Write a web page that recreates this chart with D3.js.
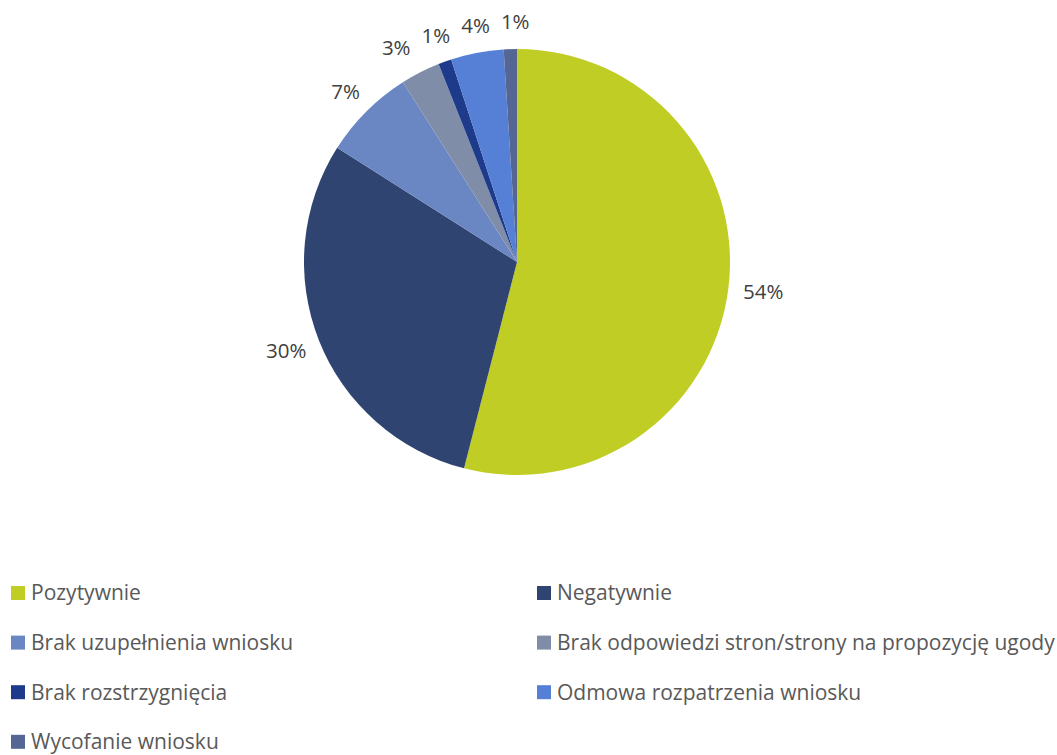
<!DOCTYPE html>
<html>
<head>
<meta charset="utf-8">
<script src="https://cdn.jsdelivr.net/npm/d3@7"></script>
<style>
  body { margin: 0; background: #fff; }
  text { font-family: "Open Sans", sans-serif; }
</style>
</head>
<body>
<div id="pie-chart"></div>
<script>
// data
const categories = [
    "Pozytywnie",
    "Negatywnie",
    "Brak uzupełnienia wniosku",
    "Brak odpowiedzi stron/strony na propozycję ugody",
    "Brak rozstrzygnięcia",
    "Odmowa rozpatrzenia wniosku",
    "Wycofanie wniosku"
];
const values = [54, 30, 7, 3, 1, 4, 1];
const colors = ["#c0cd24", "#2f4470", "#6a86c3", "#7f8da9", "#1e3a8a", "#5680d6", "#566694"];

const dataset = categories.map((c, i) => ({ category: c, value: values[i] }));

const svg = d3.select("#pie-chart")
    .append("svg")
    .attr("width", 1057)
    .attr("height", 755);

const colorScale = d3.scaleOrdinal()
    .domain(categories)
    .range(colors);

// pie, starts at 12 o'clock and goes clockwise like excel
const radius = 213;
const g = svg.append("g")
    .attr("transform", `translate(${517}, ${262})`);

const pie = d3.pie()
    .value(d => d.value)
    .sort(null);

const arc = d3.arc()
    .innerRadius(0)
    .outerRadius(radius);

// anchor point just outside the edge, label box sits against it
const gap = 15;
const arcAnchor = d3.arc()
    .innerRadius(radius + gap)
    .outerRadius(radius + gap);

const arcs = pie(dataset);

g.selectAll("path")
    .data(arcs)
    .enter()
    .append("path")
    .attr("d", arc)
    .attr("fill", d => colorScale(d.data.category));

// percent labels outside
const labels = g.selectAll("text.lbl")
    .data(arcs)
    .enter()
    .append("text")
    .attr("class", "lbl")
    .attr("text-anchor", "middle")
    .attr("dy", "0.35em")
    .style("font-size", "20.5px")
    .attr("fill", "#404040")
    .text(d => d.data.value + "%");

const boxH = 24;
const pos = [];
labels.each(function (d) {
    const w = this.getComputedTextLength();
    const a = (d.startAngle + d.endAngle) / 2;
    const [ax, ay] = arcAnchor.centroid(d);
    pos.push({ x: ax + Math.sin(a) * w / 2, y: ay - Math.cos(a) * boxH / 2, w: w });
});

// small relaxation so the crowded ones at the top dont overlap
for (let k = 0; k < 200; k++) {
    for (let i = 0; i < pos.length; i++) {
        for (let j = i + 1; j < pos.length; j++) {
            const p = pos[i], q = pos[j];
            const need = (p.w + q.w) / 2 + 11;
            const dx = q.x - p.x;
            if (Math.abs(q.y - p.y) < boxH && Math.abs(dx) < need) {
                const push = (need - Math.abs(dx)) / 2 * (dx >= 0 ? 1 : -1);
                p.x -= push * 0.5;
                q.x += push * 0.5;
            }
        }
    }
}

labels.attr("transform", (d, i) => `translate(${pos[i].x}, ${pos[i].y})`);

// legend, two columns
const legend = svg.append("g")
    .attr("transform", `translate(${11}, ${593})`);

dataset.forEach((d, i) => {
    const row = legend.append("g")
        .attr("transform", `translate(${(i % 2) * 526}, ${Math.floor(i / 2) * 49.6})`);

    row.append("rect")
        .attr("y", -7)
        .attr("width", 14)
        .attr("height", 14)
        .attr("fill", colorScale(d.category));

    row.append("text")
        .attr("x", 20)
        .attr("dy", "0.35em")
        .style("font-size", "21px")
        .attr("fill", "#595959")
        .text(d.category);
});
</script>
</body>
</html>
